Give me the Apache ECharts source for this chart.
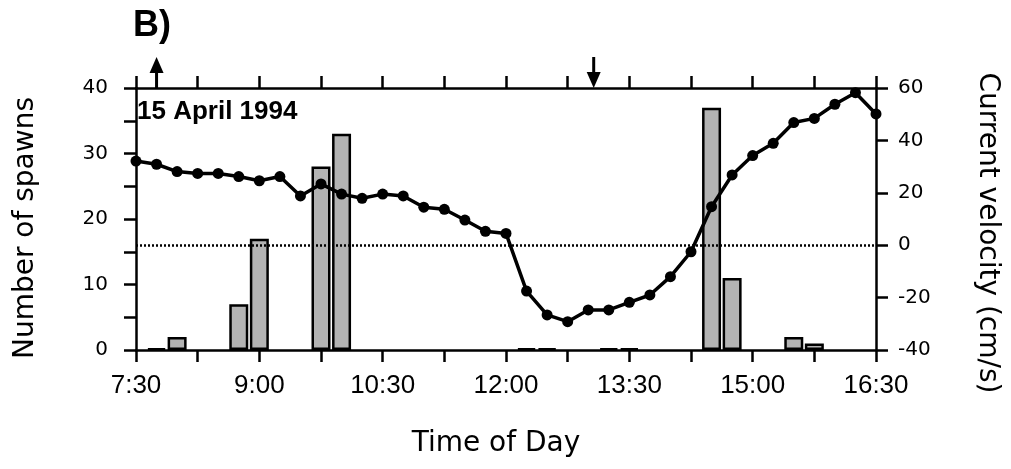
<!DOCTYPE html>
<html>
<head>
<meta charset="utf-8">
<script src="https://cdn.jsdelivr.net/npm/echarts@6/dist/echarts.min.js"></script>
<style>
html,body{margin:0;padding:0;background:#fff;}
#chart{width:1011px;height:469px;}
</style>
</head>
<body>
<div id="chart"></div>
<script>
// Time in minutes since midnight
const lineTimes = [450,465,480,495,510,525,540,555,570,585,600,615,630,645,660,675,690,705,720,735,750,765,780,795,810,825,840,855,870,885,900,915,930,945,960,975,990];
const velocity = [32.1,30.9,28.1,27.4,27.4,26.2,24.6,26.2,18.8,23.4,19.5,17.9,19.5,18.8,14.5,13.7,9.6,5.3,4.5,-17.5,-26.6,-29.2,-24.7,-24.7,-21.8,-19,-12,-2.5,14.7,26.8,34.2,38.9,46.8,48.4,53.8,58.2,50.1];
const barTimes = [465,480,525,540,585,600,735,750,795,810,870,885,930,945];
const spawns   = [0.25,2,7,17,28,33,0.25,0.25,0.25,0.25,37,11,2,1];
const xTickLabels = {450:'7:30',540:'9:00',630:'10:30',720:'12:00',810:'13:30',900:'15:00',990:'16:30'};
const arrowUpTimes = [465];
const arrowDownTimes = [784];
const dateLabel = '15 April 1994';
const panelLabel = 'B)';

const FONT = '"Liberation Sans", Arial, Helvetica, sans-serif';
const WIDE = '"DejaVu Sans", "Liberation Sans", sans-serif';
const chart = echarts.init(document.getElementById('chart'));
const axisLineStyle = {color:'#000', width:2.5};
const option = {
  animation:false,
  backgroundColor:'#fff',
  grid:{left:136, right:135, top:88, bottom:119},
  xAxis:[{
    type:'value', position:'bottom', min:450, max:990, interval:45,
    axisLine:{show:true, onZero:false, lineStyle:axisLineStyle},
    axisTick:{show:true, length:12, lineStyle:{color:'#000', width:2.5}},
    splitLine:{show:false},
    axisLabel:{margin:23, color:'#000', fontSize:26, fontFamily:FONT,
      formatter:v => xTickLabels[v] || ''},
    name:'Time of Day', nameLocation:'middle', nameGap:80,
    nameTextStyle:{color:'#000', fontSize:28, fontFamily:WIDE, padding:[0,20,0,0]}
  },{
    type:'value', position:'top', min:450, max:990, interval:45,
    axisLine:{show:true, onZero:false, lineStyle:axisLineStyle},
    axisTick:{show:true, length:12, lineStyle:{color:'#000', width:2.5}},
    splitLine:{show:false}, axisLabel:{show:false}
  }],
  yAxis:[{
    type:'value', position:'left', min:0, max:40, interval:5,
    axisLine:{show:true, lineStyle:axisLineStyle},
    axisTick:{show:true, length:12, lineStyle:{color:'#000', width:2.5}},
    splitLine:{show:false},
    axisLabel:{margin:28, color:'#000', fontSize:20, fontFamily:WIDE,
      formatter:v => (v % 10 === 0 ? String(v) : '')},
    name:'Number of spawns', nameLocation:'middle', nameGap:96, nameRotate:90,
    nameTextStyle:{color:'#000', fontSize:28, fontFamily:WIDE, padding:[0,18,0,0]}
  },{
    type:'value', position:'right', min:-40, max:60, interval:20,
    axisLine:{show:true, lineStyle:axisLineStyle},
    axisTick:{show:true, length:12, lineStyle:{color:'#000', width:2.5}},
    splitLine:{show:false},
    axisLabel:{margin:22, color:'#000', fontSize:20, fontFamily:WIDE},
    name:'Current velocity (cm/s)', nameLocation:'middle', nameGap:97, nameRotate:-90,
    nameTextStyle:{color:'#000', fontSize:28, fontFamily:WIDE, padding:[0,0,0,28]}
  }],
  series:[{
    type:'bar', xAxisIndex:0, yAxisIndex:0, barWidth:19,
    data: barTimes.map((t,i)=>[t, spawns[i]]),
    itemStyle:{color:'#b3b3b3', borderColor:'#000', borderWidth:2.5},
    z:2
  },{
    type:'line', xAxisIndex:0, yAxisIndex:1,
    data: lineTimes.map((t,i)=>[t, velocity[i]]),
    symbol:'circle', symbolSize:11,
    lineStyle:{color:'#000', width:3.5},
    itemStyle:{color:'#000'},
    z:4,
    markLine:{
      silent:true, symbol:['none','none'], label:{show:false},
      lineStyle:{color:'#000', type:[2,2], width:2.5},
      data:[{yAxis:0}]
    }
  }]
};
chart.setOption(option);

const yTop = chart.convertToPixel({yAxisIndex:0}, 40);
const graphics = [];
arrowUpTimes.forEach(t => {
  const x = chart.convertToPixel({xAxisIndex:0}, t);
  graphics.push({type:'line', shape:{x1:x, y1:yTop, x2:x, y2:yTop-20}, style:{stroke:'#000', lineWidth:3}});
  graphics.push({type:'polygon', shape:{points:[[x-7,yTop-15],[x+7,yTop-15],[x,yTop-31]]}, style:{fill:'#000'}});
});
arrowDownTimes.forEach(t => {
  const x = chart.convertToPixel({xAxisIndex:0}, t);
  graphics.push({type:'line', shape:{x1:x, y1:yTop-31, x2:x, y2:yTop-10}, style:{stroke:'#000', lineWidth:3}});
  graphics.push({type:'polygon', shape:{points:[[x-7,yTop-16],[x+7,yTop-16],[x,yTop]]}, style:{fill:'#000'}});
});
const xLeft = chart.convertToPixel({xAxisIndex:0}, 450);
graphics.push({type:'text', x:xLeft+1, y:yTop+11, style:{text:dateLabel, fill:'#000', font:'bold 26px '+FONT}, z:10});
graphics.push({type:'text', x:xLeft-3, y:8, style:{text:panelLabel, fill:'#000', font:'bold 36px '+FONT}, z:10});
chart.setOption({graphic:graphics});
</script>
</body>
</html>
